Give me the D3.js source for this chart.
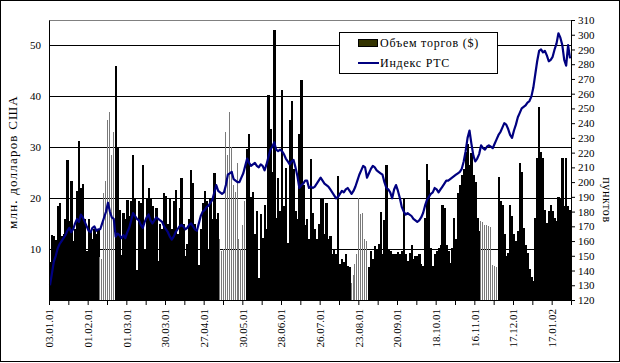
<!DOCTYPE html>
<html>
<head>
<meta charset="utf-8">
<script src="https://cdn.jsdelivr.net/npm/d3@7"></script>
<style>
  body { margin: 0; background: #fff; }
  svg { display: block; font-family: "Liberation Serif", "Times New Roman", serif; }
</style>
</head>
<body>
<svg id="chart" width="620" height="363"></svg>
<script>
// x axis labels, one every 20 trading days
var tickLabels = ["03.01.01", "01.02.01", "01.03.01", "30.03.01", "27.04.01", "30.05.01", "28.06.01",
                  "26.07.01", "23.08.01", "20.09.01", "18.10.01", "16.11.01", "17.12.01", "17.01.02"];

// trading volume, mln USD, one value per trading day
var volume = [
  7.5, 12.8, 12.5, 11.8, 18.5, 19, 12.5, 13, 16, 27.5,
  15.5, 23.4, 11.5, 14, 21.5, 31.2, 22, 22.8, 16, 9.6,
  16, 13.5, 12, 14, 13, 14, 8.5, 8, 21, 23.4,
  35.3, 37, 28.5, 33, 46, 30, 17.7, 8.8, 17, 16,
  19.7, 16.5, 19.5, 28.4, 20, 5.8, 19.5, 19, 26.5, 10,
  20, 22, 20, 18.5, 16, 18, 7.7, 15, 14, 21,
  20.5, 15, 20, 14, 19.5, 21.6, 13, 18, 24, 15,
  8.6, 11, 16, 25.5, 23, 15, 14, 6.9, 14, 19,
  21.5, 19.5, 10, 20, 16, 24.9, 16, 17, 12, 9.6,
  10, 33, 28.5, 37, 30, 22.6, 21.3, 26.9, 12, 10,
  14.8, 19.5, 29.7, 32.7, 20.2, 21.3, 13, 17.4, 4.4, 16.8,
  12.2, 18.7, 14, 40.3, 33.6, 25.2, 53, 16.1, 23.9, 17.4,
  41.3, 18.4, 26, 11.2, 35.3, 39, 25.8, 17.4, 16, 32.7,
  43.2, 22.6, 14.8, 16, 12, 27.7, 17, 14, 11.9, 15,
  20, 20, 13, 19, 12, 12.5, 9, 10, 9, 24.4,
  7, 8, 7.5, 9.1, 6.7, 6.5, 3.4, 5, 7, 9,
  20, 16.8, 17, 12, 11.5, 6.4, 9.6, 8, 10.6, 10,
  11, 17.3, 9, 15.8, 26.5, 10, 9.6, 9, 9, 9,
  9.5, 9, 9.7, 20, 9, 7.7, 9.3, 10.9, 8, 8.6,
  8.6, 9, 7, 6.7, 16.1, 26.8, 23.6, 10.3, 6.7, 9,
  9.6, 10.3, 10.9, 18.7, 18, 10.9, 9.6, 7.3, 10.3, 16.1,
  12, 21, 22.6, 24.5, 25.8, 29, 30.7, 26.5, 28.8, 24.5,
  23.2, 16.1, 13.5, 15.5, 15.3, 14.8, 14.7, 14.6, 14.3, 6.8,
  6.7, 6.5, 24.2, 19.4, 18.7, 12.9, 8.6, 9.3, 18.7, 16.5,
  12.9, 11.6, 13.5, 27, 25.2, 14.2, 10.9, 9.3, 6, 4.6,
  3.7, 16.1, 27.8, 37.9, 29, 27.8, 17.7, 15.1, 17.4, 18.7,
  17.4, 16.1, 15.5, 20.3, 20, 27.8, 18.4, 27.8, 18.4, 17.7
];

// RTS index, points
var rts = [
  130, 138, 146, 150, 155, 158, 160, 162, 164, 167,
  169, 166, 168, 172, 175, 173, 178, 176, 173, 170,
  167, 166, 169, 170, 167, 168, 168, 172, 176, 180,
  186, 180, 176, 175, 163, 165, 164, 162, 164, 162,
  166, 169, 174, 179, 177, 175, 174, 171, 169, 173,
  176, 178, 174, 172, 174, 176, 175, 174, 173, 170,
  168, 166, 163, 161, 163, 166, 168, 170, 171, 170,
  168, 169, 171, 172, 170, 168, 167, 172, 177, 180,
  181, 183, 184, 186, 188, 193, 198, 194, 193, 192,
  193, 198, 205, 206, 207, 202, 201, 200, 200, 203,
  206, 211, 216, 213, 211, 212, 213, 211, 210, 212,
  211, 208, 212, 217, 222, 224, 227, 222, 221, 222,
  221, 219, 216, 214, 212, 214, 215, 210, 204, 196,
  198, 199, 201, 201, 196, 197, 196, 197, 199, 201,
  203, 201, 199, 198, 197, 195, 193, 191, 189, 190,
  192, 194, 193, 195, 196, 194, 192, 194, 197, 201,
  205, 208, 211, 210, 203, 206, 209, 211, 210, 208,
  207, 206, 205, 200, 196, 195, 193, 189, 195, 198,
  194, 189, 183, 180, 178, 179, 178, 177, 175, 174,
  173, 174, 176, 179, 184, 188, 190, 192, 193, 196,
  195, 193, 195, 197, 199, 201, 201, 202, 203, 204,
  205, 206, 207, 209, 214, 221, 230, 235, 226, 218,
  214, 216, 219, 225, 223, 222, 224, 225, 224, 223,
  226, 229, 232, 234, 237, 240, 239, 236, 232, 230,
  235, 239, 244, 247, 250, 251, 252, 254, 255, 258,
  264, 273, 282, 289, 290, 288, 289, 286, 282, 283,
  285, 290, 294, 301, 298, 293, 283, 279, 293, 284
];

// stretches of days that the original draws in grey
var greyDays = [[26, 33], [88, 101], [156, 164], [223, 231]];

var volTicks = [10, 20, 30, 40, 50];

var margin = { left: 49, right: 571, top: 20, bottom: 300 };
var svg = d3.select("#chart");

var x = d3.scaleBand()
  .domain(d3.range(volume.length))
  .range([margin.left, margin.right])
  .padding(0);

var xAxisScale = d3.scaleLinear()
  .domain([0, volume.length])
  .range([margin.left, margin.right]);

var yLeft = d3.scaleLinear().domain([0, 55]).range([margin.bottom, margin.top]);
var yRight = d3.scaleLinear().domain([120, 310]).range([margin.bottom, margin.top]);

function isGrey(i) {
  return greyDays.some(function(r) { return i >= r[0] && i <= r[1]; });
}

// outer frame
svg.append("rect")
  .attr("x", 0.5).attr("y", 0.5)
  .attr("width", 619).attr("height", 361)
  .attr("fill", "#fff").attr("stroke", "#000");

// grid
svg.append("line")
  .attr("x1", margin.left).attr("x2", margin.right)
  .attr("y1", margin.top + 0.5).attr("y2", margin.top + 0.5)
  .attr("stroke", "#808080");

svg.append("g").selectAll("line")
  .data(volTicks)
  .join("line")
  .attr("x1", margin.left).attr("x2", margin.right)
  .attr("y1", function(d) { return Math.round(yLeft(d)) + 0.5; })
  .attr("y2", function(d) { return Math.round(yLeft(d)) + 0.5; })
  .attr("stroke", "#000");

// volume bars
svg.append("g")
  .attr("shape-rendering", "crispEdges")
  .selectAll("rect")
  .data(volume)
  .join("rect")
  .attr("x", function(d, i) { return x(i); })
  .attr("width", function(d, i) { return isGrey(i) ? 1 : x.bandwidth() + 0.3; })
  .attr("y", function(d) { return yLeft(d); })
  .attr("height", function(d) { return yLeft(0) - yLeft(d); })
  .attr("fill", function(d, i) { return isGrey(i) ? "#7a7a7a" : "#000"; });

// RTS line
var line = d3.line()
  .x(function(d, i) { return x(i) + x.bandwidth() / 2; })
  .y(function(d) { return yRight(d); });

svg.append("path")
  .datum(rts)
  .attr("d", line)
  .attr("fill", "none")
  .attr("stroke", "#000080")
  .attr("stroke-width", 2.2)
  .attr("stroke-linejoin", "round");

// axes
var xAxis = d3.axisBottom(xAxisScale)
  .tickValues(d3.range(0, volume.length + 1, 10))
  .tickFormat(function(d) { return d % 20 === 0 && tickLabels[d / 20] ? tickLabels[d / 20] : ""; })
  .tickSize(5)
  .tickSizeOuter(0);

var gx = svg.append("g")
  .attr("transform", "translate(0," + margin.bottom + ")")
  .call(xAxis);
gx.selectAll("text")
  .attr("transform", "rotate(-90)")
  .attr("x", -9).attr("y", 0).attr("dy", "0.35em")
  .style("text-anchor", "end");

svg.append("g")
  .attr("transform", "translate(" + margin.left + ",0)")
  .call(d3.axisLeft(yLeft).tickValues(volTicks).tickSize(0).tickSizeOuter(0).tickPadding(8));

svg.append("g")
  .attr("transform", "translate(" + margin.right + ",0)")
  .call(d3.axisRight(yRight).tickValues(d3.range(120, 311, 10)).tickSize(4).tickSizeOuter(0).tickPadding(3));

svg.selectAll(".tick text")
  .attr("font-family", "'Liberation Serif', 'Times New Roman', serif")
  .attr("font-size", 11)
  .attr("fill", "#000");
svg.selectAll(".domain, .tick line").attr("stroke", "#000");

// axis titles
svg.append("text")
  .attr("transform", "translate(17,162) rotate(-90)")
  .attr("text-anchor", "middle")
  .attr("font-size", 13)
  .attr("letter-spacing", 1.2)
  .text("млн. долларов США");

svg.append("text")
  .attr("transform", "translate(603,200) rotate(90)")
  .attr("text-anchor", "middle")
  .attr("font-size", 12)
  .attr("letter-spacing", 0.6)
  .text("пунктов");

// legend
var legend = svg.append("g");
legend.append("rect")
  .attr("x", 339.5).attr("y", 32.5)
  .attr("width", 158).attr("height", 41)
  .attr("fill", "#fff").attr("stroke", "#000");
legend.append("rect")
  .attr("x", 358.5).attr("y", 39.5)
  .attr("width", 19).attr("height", 7)
  .attr("fill", "#333300").attr("stroke", "#000");
legend.append("text")
  .attr("x", 380).attr("y", 47)
  .attr("font-size", 12)
  .attr("letter-spacing", 0.75)
  .text("Объем торгов ($)");
legend.append("line")
  .attr("x1", 358).attr("x2", 379)
  .attr("y1", 63).attr("y2", 63)
  .attr("stroke", "#000080").attr("stroke-width", 2);
legend.append("text")
  .attr("x", 380).attr("y", 67)
  .attr("font-size", 12)
  .attr("letter-spacing", 0.75)
  .text("Индекс РТС");
</script>
</body>
</html>
